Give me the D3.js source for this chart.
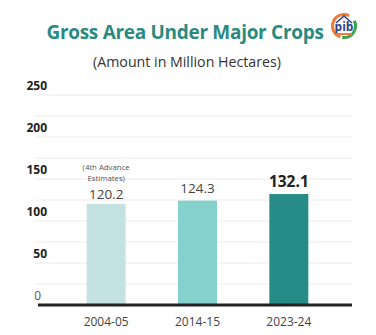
<!DOCTYPE html>
<html><head><meta charset="utf-8">
<script src="https://cdn.jsdelivr.net/npm/d3@7"></script>
<style>body{margin:0;background:#fff}svg{display:block;font-family:"Open Sans",sans-serif}</style>
</head><body>
<svg id="c" width="376" height="335"></svg>
<script>
const categories = ["2004-05","2014-15","2023-24"];
const values = [120.2,124.3,132.1];
const valueLabels = ["120.2","124.3","132.1"];
const barColors = ["#c4e2e1","#85d1cb","#278c88"];
const yTicks = [0,50,100,150,200,250];
const gridTicks = [0,25,50,75,100,125,150,175,200,225,250];
const note = ["(4th Advance","Estimates)"];

const svg = d3.select("#c");
const y = d3.scaleLinear().domain([0,250]).range([305,95]);
const x = d3.scaleBand().domain(categories).range([41,354]).paddingInner(0.573).paddingOuter(0.5);

svg.append("text").attr("x",185).attr("y",39).attr("text-anchor","middle")
  .attr("font-size",19).attr("font-weight",700).attr("fill","#2a8a80").attr("letter-spacing",-0.3)
  .text("Gross Area Under Major Crops");
svg.append("text").attr("x",187).attr("y",67).attr("text-anchor","middle")
  .attr("font-size",14.2).attr("fill","#333").text("(Amount in Million Hectares)");

// logo
const lg = svg.append("g").attr("transform","translate(344,26)");
lg.append("circle").attr("r",13).attr("fill","#fff");
lg.append("path").attr("d",d3.arc()({innerRadius:10,outerRadius:13,startAngle:-Math.PI*0.9,endAngle:Math.PI*0.15})).attr("fill","#f07d3a");
lg.append("path").attr("d",d3.arc()({innerRadius:10,outerRadius:13,startAngle:Math.PI*0.35,endAngle:Math.PI*1.05})).attr("fill","#3aa54a");
lg.append("path").attr("d","M-8,-3 L0,-10 L8,-3").attr("fill","none").attr("stroke","#2b3f8f").attr("stroke-width",1.5);
lg.append("text").attr("y",5).attr("text-anchor","middle").attr("font-size",12).attr("font-weight",700).attr("fill","#2b3f8f").text("pib");
lg.append("rect").attr("x",-8).attr("y",7).attr("width",16).attr("height",2).attr("fill","#f07d3a");

// grid
svg.append("g").selectAll("line").data(gridTicks).join("line")
  .attr("x1",35).attr("x2",352).attr("y1",d=>y(d)).attr("y2",d=>y(d))
  .attr("stroke","#ececec").attr("stroke-width",1);

// y labels
svg.append("g").selectAll("text").data(yTicks).join("text")
  .attr("x",d=>d===0?41:47).attr("y",d=>y(d)-9).attr("dy","0.35em").attr("text-anchor","end")
  .attr("font-size",12).attr("font-weight",d=>d===0?400:700).attr("fill",d=>d===0?"#555":"#222")
  .text(d=>d);

// bars
svg.append("g").selectAll("rect").data(values).join("rect")
  .attr("x",(d,i)=>x(categories[i])).attr("width",x.bandwidth())
  .attr("y",d=>y(d)).attr("height",d=>y(0)-y(d)).attr("fill",(d,i)=>barColors[i]);

// axis line
svg.append("line").attr("x1",38).attr("x2",352).attr("y1",y(0)).attr("y2",y(0)).attr("stroke","#222").attr("stroke-width",3);

// x labels
const xa = d3.axisBottom(x).tickSize(0).tickPadding(0);
const gx = svg.append("g").attr("transform",`translate(0,${y(0)+17})`).call(xa);
gx.select(".domain").remove();
gx.selectAll("text").attr("font-size",12).attr("fill","#444").attr("font-family","'Open Sans',sans-serif").attr("dy","0.35em");

// value labels
const labelGap = [5,8,7];
svg.append("g").selectAll("text").data(values).join("text")
  .attr("x",(d,i)=>x(categories[i])+x.bandwidth()/2)
  .attr("y",(d,i)=>y(d)-labelGap[i])
  .attr("text-anchor","middle")
  .attr("font-size",(d,i)=>i===2?15.5:13.5).attr("font-weight",(d,i)=>i===2?700:400)
  .attr("fill",(d,i)=>i===2?"#222":"#444")
  .text((d,i)=>valueLabels[i]);

// note
svg.append("g").selectAll("text").data(note).join("text")
  .attr("x",x(categories[0])+x.bandwidth()/2).attr("y",(d,i)=>170+i*10.5)
  .attr("text-anchor","middle").attr("font-size",7.8).attr("fill","#555").text(d=>d);
</script>
</body></html>
